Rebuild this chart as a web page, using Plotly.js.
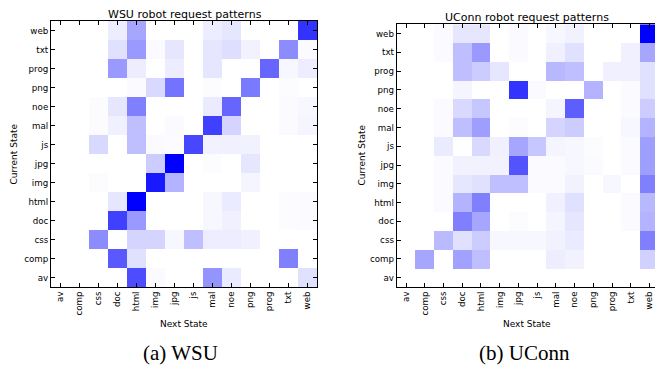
<!DOCTYPE html>
<html>
<head>
<meta charset="utf-8">
<script src="https://cdn.plot.ly/plotly-3.0.1.min.js"></script>
<style>html,body{margin:0;padding:0;background:#fff;}#chart{width:655px;height:367px;}</style>
</head>
<body>
<div id="chart"></div>
<script>
// State labels (x: next state, y: current state), bottom row first
var states = ["av","comp","css","doc","html","img","jpg","js","mal","noe","png","prog","txt","web"];

// WSU transition intensities, one row per current state (av .. web)
var wsuAv   = [0,0,0,0,0.70,0.02,0,0,0.42,0.08,0,0,0,0.12];
var wsuComp = [0,0,0,0.65,0.12,0,0,0,0,0,0,0,0.50,0];
var wsuCss  = [0,0,0.45,0,0.17,0.17,0.03,0.25,0.07,0.07,0.06,0,0,0];
var wsuDoc  = [0,0,0,0.75,0.40,0,0,0,0.03,0.06,0,0,0.01,0.02];
var wsuHtml = [0,0,0,0.10,1.0,0,0,0,0.03,0.08,0,0,0.01,0.02];
var wsuImg  = [0,0,0.01,0,0,0.90,0.30,0,0,0,0.04,0,0,0];
var wsuJpg  = [0,0,0,0,0,0.20,1.0,0,0.01,0,0.10,0,0,0];
var wsuJs   = [0,0,0.15,0,0.25,0.02,0.01,0.72,0.05,0.06,0.05,0,0,0];
var wsuMal  = [0,0,0.01,0.06,0.25,0,0.02,0,0.75,0.17,0,0,0.02,0.04];
var wsuNoe  = [0,0,0.01,0.10,0.50,0,0,0,0.08,0.60,0,0,0.02,0.03];
var wsuPng  = [0,0,0,0,0.02,0.15,0.55,0,0.01,0,0.52,0,0.01,0];
var wsuProg = [0,0,0,0.40,0.07,0,0.07,0,0.10,0,0,0.60,0.03,0.07];
var wsuTxt  = [0,0,0,0.12,0.40,0.02,0.10,0,0.10,0.13,0.05,0,0.45,0.02];
var wsuWeb  = [0,0,0,0.07,0.35,0,0,0,0.07,0.10,0,0,0,0.80];

// UConn transition intensities
var ucAv   = [0,0,0,0,0,0,0,0,0,0,0,0,0,0];
var ucComp = [0,0.35,0,0.37,0.25,0,0,0,0.07,0.05,0,0,0,0.18];
var ucCss  = [0,0,0.27,0.12,0.20,0.03,0.03,0.03,0.05,0.08,0,0,0,0.50];
var ucDoc  = [0,0,0,0.50,0.35,0,0.01,0,0.04,0.10,0,0,0.02,0.30];
var ucHtml = [0,0,0.02,0.30,0.50,0,0,0,0.06,0.12,0,0,0.02,0.28];
var ucImg  = [0,0,0.02,0.10,0.12,0.25,0.25,0.02,0.02,0.05,0,0.03,0,0.50];
var ucJpg  = [0,0,0.02,0.05,0.05,0.05,0.67,0.02,0.02,0.03,0.02,0,0.02,0.38];
var ucJs   = [0,0,0.08,0,0.15,0.06,0.35,0.22,0.04,0.03,0.01,0,0.02,0.38];
var ucMal  = [0,0,0.02,0.25,0.38,0,0.01,0,0.17,0.20,0,0,0.03,0.30];
var ucNoe  = [0,0,0.02,0.15,0.22,0,0,0,0.04,0.63,0,0,0.02,0.20];
var ucPng  = [0,0,0,0.04,0,0,0.80,0.02,0,0,0.30,0,0.02,0.12];
var ucProg = [0,0,0,0.25,0.20,0.10,0,0,0.28,0.25,0,0.06,0.06,0.12];
var ucTxt  = [0,0,0.02,0.25,0.40,0,0.02,0,0.06,0.12,0,0,0.06,0.35];
var ucWeb  = [0,0,0.02,0.10,0.10,0,0.02,0,0.03,0.05,0,0,0,1.0];

var wsuZ = [wsuAv,wsuComp,wsuCss,wsuDoc,wsuHtml,wsuImg,wsuJpg,wsuJs,wsuMal,wsuNoe,wsuPng,wsuProg,wsuTxt,wsuWeb];
var ucZ  = [ucAv,ucComp,ucCss,ucDoc,ucHtml,ucImg,ucJpg,ucJs,ucMal,ucNoe,ucPng,ucProg,ucTxt,ucWeb];

var W = 655, H = 367;
function px(x){ return x / W; }
function py(y){ return 1 - y / H; }

var cmap = [[0,"#ffffff"],[1,"#0000ff"]];
var idx = states.map(function(_, i){ return i; });

var traces = [
  {type:"heatmap", z:wsuZ, x:idx, y:idx, colorscale:cmap, zmin:0, zmax:1, showscale:false, xaxis:"x", yaxis:"y", hoverinfo:"skip"},
  {type:"heatmap", z:ucZ,  x:idx, y:idx, colorscale:cmap, zmin:0, zmax:1, showscale:false, xaxis:"x2", yaxis:"y2", hoverinfo:"skip"}
];

var tickFont = {family:"DejaVu Sans", size:8.7, color:"#000"};
function xax(domain, range, mirror){
  return {domain:domain, range:range, tickmode:"array", tickvals:idx, ticktext:states, tickangle:-90,
    ticks:"inside", ticklen:4, tickwidth:1, tickcolor:"#000", mirror:mirror, showline:true, linecolor:"#000", linewidth:1,
    showgrid:false, zeroline:false, tickfont:tickFont, fixedrange:true};
}
function yax(domain, mirror, anchor){
  return {domain:domain, range:[-0.5,13.5], tickmode:"array", tickvals:idx, ticktext:states, anchor:anchor,
    ticks:"inside", ticklen:4, tickwidth:1, tickcolor:"#000", mirror:mirror, showline:true, linecolor:"#000", linewidth:1,
    showgrid:false, zeroline:false, tickfont:tickFont, fixedrange:true};
}

var layout = {
  width:W, height:H, margin:{l:0,r:0,t:0,b:0}, paper_bgcolor:"#fff", plot_bgcolor:"#fff",
  showlegend:false,
  xaxis: Object.assign(xax([px(51), px(317)], [-0.5,13.5], "allticks"), {anchor:"y"}),
  yaxis: yax([py(287), py(21)], "allticks", "x"),
  xaxis2: Object.assign(xax([px(396.7), 1], [-0.5,13.29], "allticks"), {anchor:"y2"}),
  yaxis2: yax([py(287), py(24.3)], false, "x2"),
  annotations: [
    {text:"WSU robot request patterns", x:px(184.5), y:py(14), xref:"paper", yref:"paper", xanchor:"center", yanchor:"middle", showarrow:false, font:{family:"DejaVu Sans", size:11, color:"#000"}},
    {text:"UConn robot request patterns", x:px(527), y:py(17.3), xref:"paper", yref:"paper", xanchor:"center", yanchor:"middle", showarrow:false, font:{family:"DejaVu Sans", size:11, color:"#000"}},
    {text:"Current State", x:px(13.5), y:py(154), xref:"paper", yref:"paper", xanchor:"center", yanchor:"middle", textangle:-90, showarrow:false, font:{family:"DejaVu Sans", size:9, color:"#000"}},
    {text:"Current State", x:px(361), y:py(155.5), xref:"paper", yref:"paper", xanchor:"center", yanchor:"middle", textangle:-90, showarrow:false, font:{family:"DejaVu Sans", size:9, color:"#000"}},
    {text:"Next State", x:px(184), y:py(323.5), xref:"paper", yref:"paper", xanchor:"center", yanchor:"middle", showarrow:false, font:{family:"DejaVu Sans", size:9, color:"#000"}},
    {text:"Next State", x:px(527), y:py(323.5), xref:"paper", yref:"paper", xanchor:"center", yanchor:"middle", showarrow:false, font:{family:"DejaVu Sans", size:9, color:"#000"}},
    {text:"(a) WSU", x:px(180), y:py(353), xref:"paper", yref:"paper", xanchor:"center", yanchor:"middle", showarrow:false, font:{family:"Liberation Serif", size:21, color:"#000"}},
    {text:"(b) UConn", x:px(524), y:py(353), xref:"paper", yref:"paper", xanchor:"center", yanchor:"middle", showarrow:false, font:{family:"Liberation Serif", size:21, color:"#000"}}
  ]
};

Plotly.newPlot("chart", traces, layout, {staticPlot:true, displayModeBar:false});
</script>
</body>
</html>
